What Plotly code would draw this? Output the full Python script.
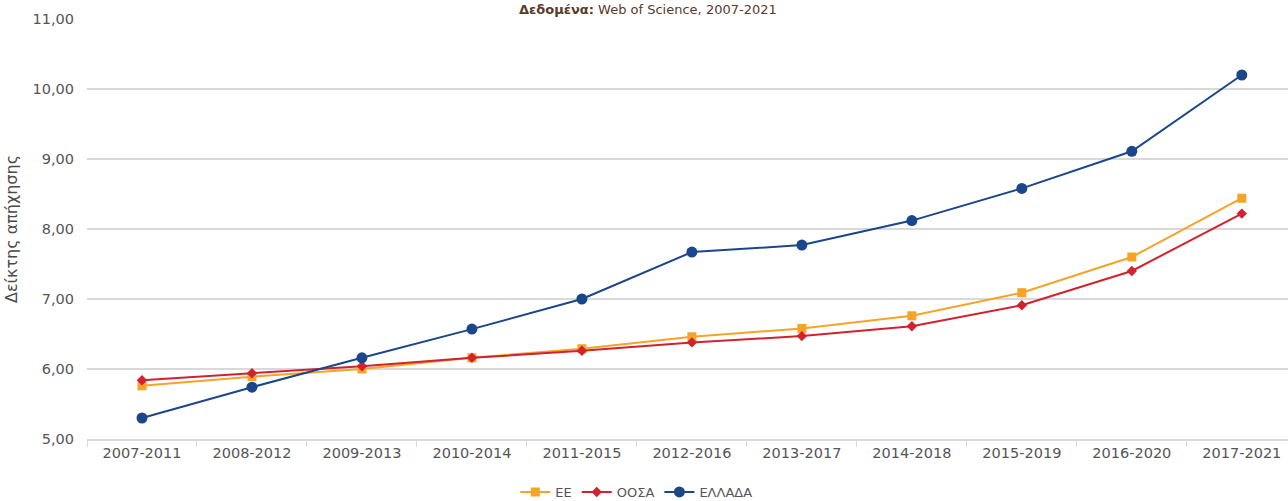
import plotly.graph_objects as go

periods = ["2007-2011", "2008-2012", "2009-2013", "2010-2014", "2011-2015",
           "2012-2016", "2013-2017", "2014-2018", "2015-2019", "2016-2020",
           "2017-2021"]
ee = [5.76, 5.89, 6.00, 6.16, 6.29, 6.46, 6.58, 6.76, 7.09, 7.60, 8.44]
oosa = [5.84, 5.94, 6.04, 6.16, 6.26, 6.38, 6.47, 6.61, 6.91, 7.40, 8.22]
ellada = [5.30, 5.74, 6.16, 6.57, 7.00, 7.67, 7.77, 8.12, 8.58, 9.11, 10.20]

y_ticks = [5, 6, 7, 8, 9, 10, 11]

FONT = "DejaVu Sans"

fig = go.Figure()
fig.add_trace(go.Scatter(
    x=periods, y=ee, name="EE", mode="lines+markers",
    line=dict(color="#f5a329", width=2),
    marker=dict(symbol="square", size=9, color="#f5a329"),
))
fig.add_trace(go.Scatter(
    x=periods, y=oosa, name="ΟΟΣΑ", mode="lines+markers",
    line=dict(color="#d0222f", width=2),
    marker=dict(symbol="diamond", size=8, color="#d0222f"),
))
fig.add_trace(go.Scatter(
    x=periods, y=ellada, name="ΕΛΛΑΔΑ", mode="lines+markers",
    line=dict(color="#1b4689", width=2),
    marker=dict(symbol="circle", size=11, color="#1b4689"),
))

fig.update_layout(
    width=1288, height=501,
    margin=dict(l=87, r=0, t=19, b=62, autoexpand=False),
    paper_bgcolor="white", plot_bgcolor="white",
    separators=",.",
    font=dict(family=FONT, color="#555555", size=14),
    showlegend=True,
    legend=dict(orientation="h", xref="container", yref="container",
                x=0.494, xanchor="center", y=0.018, yanchor="middle",
                font=dict(family=FONT, size=13, color="#555555"),
                itemwidth=30, tracegroupgap=0),
    xaxis=dict(
        type="category", range=[-0.5, 10.42],
        showgrid=False, showline=True, linecolor="#d9d9d9", linewidth=2,
        ticks="outside", tickson="boundaries", ticklen=6, tickcolor="#d9d9d9",
        tickfont=dict(family=FONT, size=14.5, color="#555555"),
        zeroline=False,
    ),
    yaxis=dict(
        range=[5, 11], tickvals=y_ticks, tickformat=".2f",
        showgrid=True, gridcolor="#d9d9d9", gridwidth=2,
        zeroline=False, ticks="", ticklabelstandoff=12,
        tickfont=dict(family=FONT, size=14.5, color="#555555"),
        title=dict(text="Δείκτης απήχησης", standoff=10,
                   font=dict(family=FONT, size=16, color="#4a4a4a")),
    ),
    annotations=[dict(
        text="<b>Δεδομένα:</b> Web of Science, 2007-2021",
        xref="paper", yref="paper", x=(648 - 87) / 1201, xanchor="center",
        y=1.0, yanchor="middle", yshift=10,
        showarrow=False, font=dict(family=FONT, size=13, color="#5a3a2a"),
    )],
)

fig.write_html("out.html")
